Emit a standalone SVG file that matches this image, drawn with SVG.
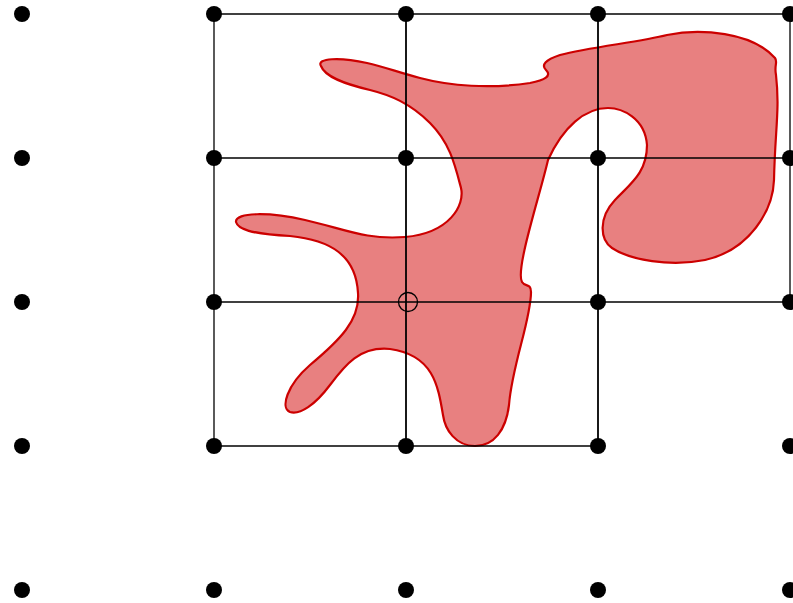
<svg xmlns="http://www.w3.org/2000/svg" width="793" height="603" viewBox="0 0 793 603">
<style>
.grid{stroke:#000;stroke-width:1.3;fill:none}
.dot{fill:#000}
.blob{fill:#e88080;stroke:#cc0000;stroke-width:2.2;stroke-linejoin:round}
</style>
<rect width="793" height="603" fill="#fff"/>
<g id="shape">
<path class="blob" d="M 321,66 C 316,58 340,57 367,63 C 385,67 400,73 420,78 C 450,86 490,89 530,83 C 545,80 552,76 546,70 C 541,65 545,60 560,55 C 590,47 640,42 667,35 C 700,28 752,32 775,58 C 778,62 774,65 776,75 C 780,110 775,130 774,180 C 773,210 750,250 705,260 C 670,267 630,260 612,248 C 600,240 598,218 615,200 C 630,184 647,173 647,145 C 645,118 622,108 608,108 C 585,108 563,127 548,160 C 540,195 515,270 522,282 C 525,287 531,283 531,292 C 531,320 512,365 509,405 C 506,430 494,446 475,446 C 456,446 445,430 443,415 C 438,385 433,355 390,349 C 360,346 345,365 330,385 C 315,405 300,415 290,412 C 280,408 287,385 310,365 C 340,340 360,320 358,293 C 356,255 330,240 290,236 C 250,234 238,229 236,222 C 235,212 270,212 305,220 C 345,229 365,240 405,237 C 450,233 465,205 461,188 C 455,165 450,143 430,123 C 410,103 390,95 370,90 C 345,84 325,77 321,66 Z"/>
</g>
<g id="connectors" class="grid">
<line x1="214" y1="14" x2="790" y2="14"/>
<line x1="214" y1="158" x2="790" y2="158"/>
<line x1="214" y1="302" x2="790" y2="302"/>
<line x1="214" y1="446" x2="598" y2="446"/>
<line x1="214" y1="14" x2="214" y2="446"/>
<line x1="406" y1="14" x2="406" y2="446" stroke-width="1.8"/>
<line x1="598" y1="14" x2="598" y2="446" stroke-width="1.8"/>
<line x1="790" y1="14" x2="790" y2="302"/>
<circle cx="408" cy="302" r="9.5"/>
</g>
<g id="dots" class="dot">
<g id="r0"><circle cx="22" cy="14" r="8"/><circle cx="214" cy="14" r="8"/><circle cx="406" cy="14" r="8"/><circle cx="598" cy="14" r="8"/><circle cx="790" cy="14" r="8"/></g>
<g id="r1"><circle cx="22" cy="158" r="8"/><circle cx="214" cy="158" r="8"/><circle cx="406" cy="158" r="8"/><circle cx="598" cy="158" r="8"/><circle cx="790" cy="158" r="8"/></g>
<g id="r2"><circle cx="22" cy="302" r="8"/><circle cx="214" cy="302" r="8"/><circle cx="598" cy="302" r="8"/><circle cx="790" cy="302" r="8"/></g>
<g id="r3"><circle cx="22" cy="446" r="8"/><circle cx="214" cy="446" r="8"/><circle cx="406" cy="446" r="8"/><circle cx="598" cy="446" r="8"/><circle cx="790" cy="446" r="8"/></g>
<g id="r4"><circle cx="22" cy="590" r="8"/><circle cx="214" cy="590" r="8"/><circle cx="406" cy="590" r="8"/><circle cx="598" cy="590" r="8"/><circle cx="790" cy="590" r="8"/></g>
</g>
</svg>
